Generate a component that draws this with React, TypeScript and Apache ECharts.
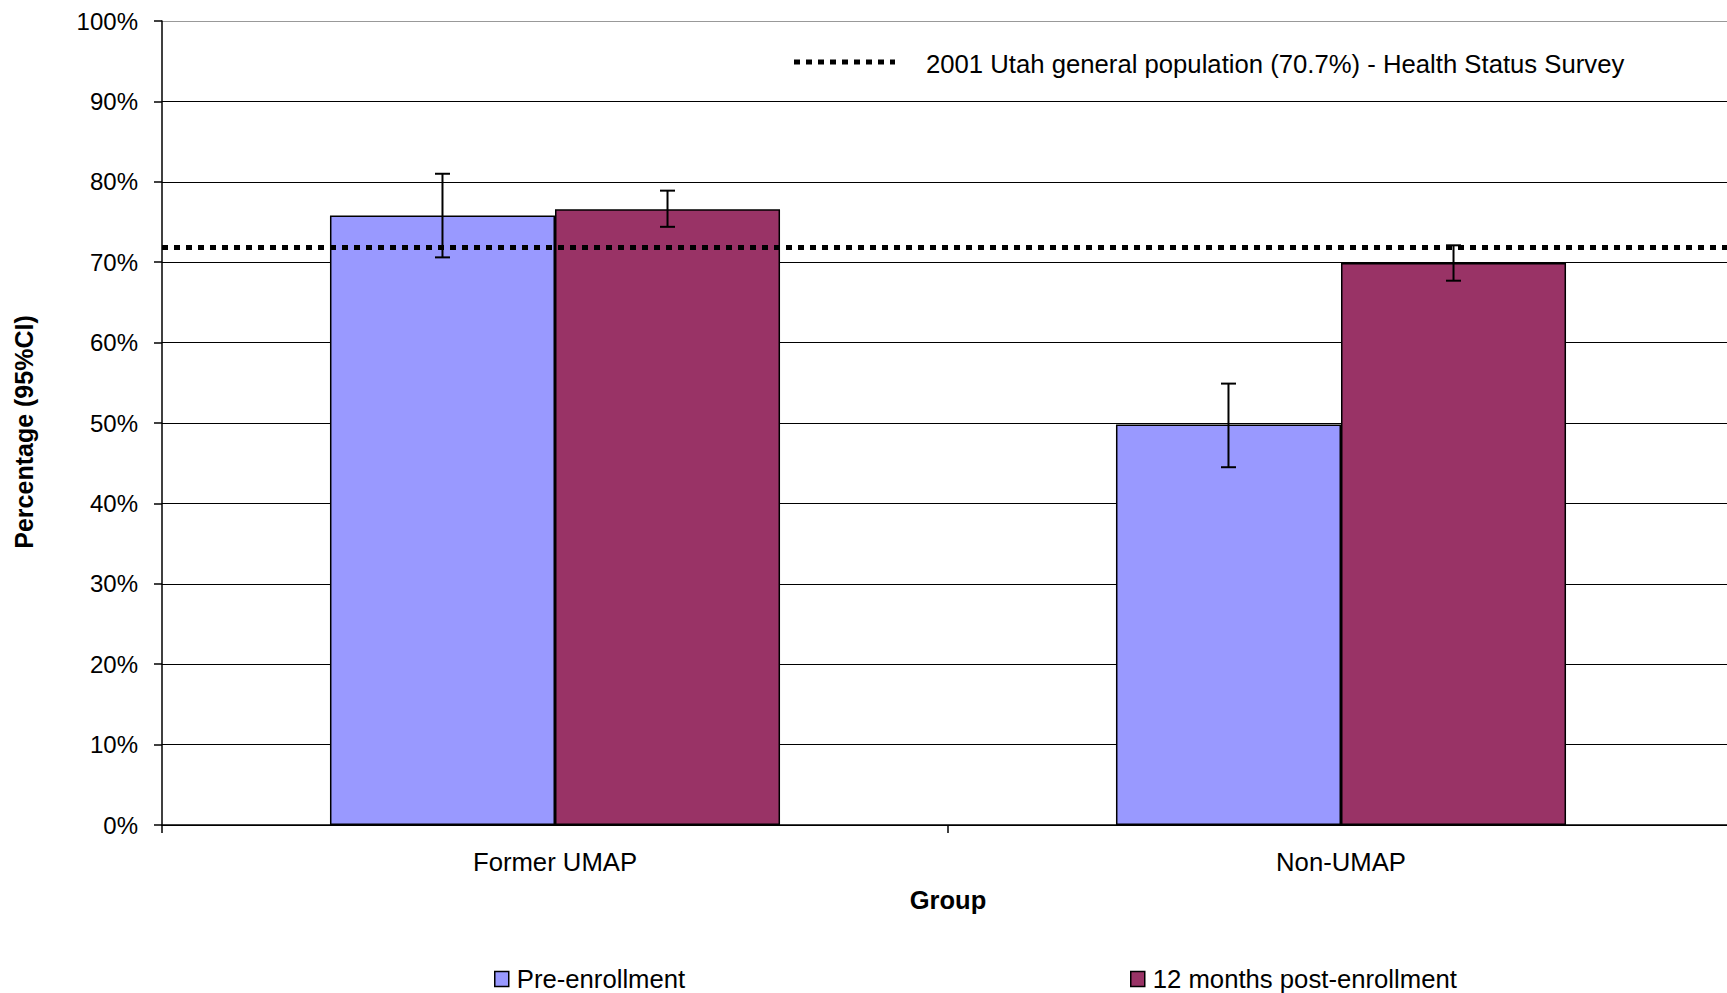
import React, { useEffect, useRef } from "react";
import * as echarts from "echarts";

const categories = ["Former UMAP", "Non-UMAP"];
const seriesNames = ["Pre-enrollment", "12 months post-enrollment"];
const preValues = [75.8, 49.8];
const postValues = [76.6, 69.9];
const preLow = [70.6, 44.5];
const preHigh = [81.0, 54.9];
const postLow = [74.4, 67.7];
const postHigh = [78.9, 72.1];
const referenceValue = 71.8;
const referenceLabel = "2001 Utah general population (70.7%) - Health Status Survey";
const yTicks = [0, 10, 20, 30, 40, 50, 60, 70, 80, 90, 100];
const xAxisTitle = "Group";
const yAxisTitle = "Percentage (95%CI)";

const FONT = "'Liberation Sans', Arial, sans-serif";
const BAR_FRAC = 0.2863;

export default function App() {
  const ref = useRef<HTMLDivElement>(null);
  useEffect(() => {
    if (!ref.current) return;
    const chart = echarts.init(ref.current, undefined, { renderer: "svg" });
    const errData: number[][] = [];
    categories.forEach((_, i) => {
      errData.push([i, preLow[i], preHigh[i], 0]);
      errData.push([i, postLow[i], postHigh[i], 1]);
    });
    const splitColors = yTicks.map((_, i) => (i === yTicks.length - 1 ? "#999" : "#000"));
    const legendCommon = {
      top: 966,
      padding: 0,
      icon: "rect",
      itemWidth: 14,
      itemHeight: 15,
      itemGap: 0,
      textStyle: { fontSize: 25.7, color: "#000", fontFamily: FONT, padding: [0, 0, 0, 3] },
      itemStyle: { borderColor: "#000", borderWidth: 1.5 },
    };
    const option: any = {
      animation: false,
      backgroundColor: "#fff",
      textStyle: { fontFamily: FONT, color: "#000" },
      grid: { left: 162, top: 21, width: 1572, height: 804, containLabel: false },
      xAxis: {
        type: "category",
        data: categories,
        axisLine: { lineStyle: { color: "#000", width: 1.5 } },
        axisTick: { show: true, length: 8, lineStyle: { color: "#000", width: 1.5 } },
        axisLabel: { fontSize: 25.7, color: "#000", fontFamily: FONT, margin: 24, interval: 0 },
        name: xAxisTitle,
        nameLocation: "middle",
        nameGap: 62,
        nameTextStyle: { fontSize: 25.5, fontWeight: "bold", color: "#000", fontFamily: FONT },
      },
      yAxis: {
        type: "value",
        min: 0,
        max: 100,
        interval: 10,
        axisLine: { show: true, lineStyle: { color: "#000", width: 1.5 } },
        axisTick: { show: true, length: 8, lineStyle: { color: "#000", width: 1.5 } },
        axisLabel: { fontSize: 24, color: "#000", fontFamily: FONT, margin: 24, formatter: "{value}%" },
        splitLine: { show: true, lineStyle: { color: splitColors, width: 1 } },
      },
      legend: [
        { ...legendCommon, data: [seriesNames[0]], left: 494 },
        { ...legendCommon, data: [seriesNames[1]], left: 1130 },
      ],
      graphic: [
        {
          type: "line",
          shape: { x1: 794, y1: 62, x2: 895, y2: 62 },
          style: { stroke: "#000", lineWidth: 5, lineDash: [6, 6] },
        },
        {
          type: "text",
          x: 926,
          y: 64,
          style: {
            text: referenceLabel,
            font: `25.7px ${FONT}`,
            fill: "#000",
            verticalAlign: "middle",
            align: "left",
          },
        },
        {
          type: "text",
          x: 24,
          y: 432,
          rotation: Math.PI / 2,
          style: {
            text: yAxisTitle,
            font: `bold 25px ${FONT}`,
            fill: "#000",
            verticalAlign: "middle",
            align: "center",
          },
        },
      ],
      series: [
        {
          name: seriesNames[0],
          type: "bar",
          data: preValues,
          barWidth: `${BAR_FRAC * 100}%`,
          barGap: "0%",
          itemStyle: { color: "#9999FF", borderColor: "#000", borderWidth: 1.5 },
          markLine: {
            silent: true,
            symbol: "none",
            label: { show: false },
            lineStyle: { color: "#000", width: 5, type: [6, 6] },
            data: [{ yAxis: referenceValue }],
            z: 10,
          },
          z: 2,
        },
        {
          name: seriesNames[1],
          type: "bar",
          data: postValues,
          barWidth: `${BAR_FRAC * 100}%`,
          barGap: "0%",
          itemStyle: { color: "#993366", borderColor: "#000", borderWidth: 1.5 },
          z: 2,
        },
        {
          type: "custom",
          data: errData,
          encode: { x: 0, y: [1, 2] },
          z: 5,
          silent: true,
          renderItem: (params: any, api: any) => {
            const cat = api.value(0);
            const lo = api.value(1);
            const hi = api.value(2);
            const s = api.value(3);
            const band = api.size([1, 0])[0];
            const bw = band * BAR_FRAC;
            const pLo = api.coord([cat, lo]);
            const pHi = api.coord([cat, hi]);
            const x = pLo[0] + (s === 0 ? -bw / 2 : bw / 2);
            const half = 7.5;
            const style = { stroke: "#000", lineWidth: 2 };
            return {
              type: "group",
              children: [
                { type: "line", shape: { x1: x, y1: pLo[1], x2: x, y2: pHi[1] }, style },
                { type: "line", shape: { x1: x - half, y1: pHi[1], x2: x + half, y2: pHi[1] }, style },
                { type: "line", shape: { x1: x - half, y1: pLo[1], x2: x + half, y2: pLo[1] }, style },
              ],
            };
          },
        },
      ],
    };
    chart.setOption(option);
    return () => chart.dispose();
  }, []);
  return (
    <div
      ref={ref}
      style={{ position: "fixed", left: 0, top: 0, width: 1740, height: 993, background: "#fff" }}
    />
  );
}
